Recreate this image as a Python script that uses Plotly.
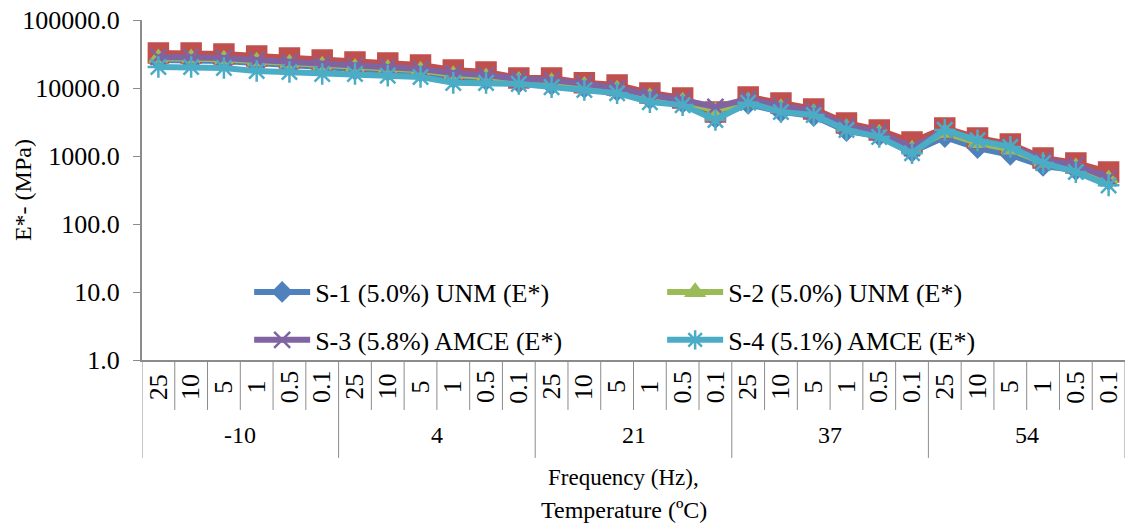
import plotly.graph_objects as go

temperatures = ["-10", "4", "21", "37", "54"]
frequencies = ["25", "10", "5", "1", "0.5", "0.1"]
categories = [f"{t}|{f}" for t in temperatures for f in frequencies]

s1_unm = [25800, 25800, 24900, 23300, 21800, 19700, 18400, 17800, 17200, 14000,
          13100, 11900, 11100, 10000, 9040, 6890, 6050, 3620, 5820, 4450,
          3870, 2330, 1970, 1150, 1900, 1310, 1040, 713, 622, 444]
s_red = [32700, 32700, 31700, 29600, 27600, 25800, 24100, 23300, 21800, 18400,
         17200, 14000, 14000, 11900, 11100, 8440, 7130, 4440, 7380, 6010,
         4910, 3060, 2410, 1610, 2580, 1840, 1500, 935, 788, 582]
s2_unm = [27500, 27500, 26500, 24800, 23000, 21500, 20000, 19300, 18200, 15600,
          14500, 12900, 12300, 10900, 9600, 7400, 6400, 4600, 6400, 5100,
          4300, 2600, 2150, 1250, 2200, 1550, 1250, 800, 690, 460]
s3_amce = [28600, 28600, 27600, 25800, 24100, 22500, 21100, 20400, 19000, 16600,
           15500, 13600, 13100, 11500, 10000, 7890, 6670, 5260, 6890, 5430,
           4590, 2760, 2250, 1310, 2420, 1700, 1400, 873, 738, 474]
s4_amce = [20400, 20400, 19700, 17800, 17200, 16100, 16100, 15200, 14500, 11900,
           11900, 11500, 10300, 9350, 8400, 6200, 5600, 3380, 6050, 4450,
           4000, 2420, 1900, 1100, 2420, 1700, 1360, 790, 580, 370]

y_tickvals = [1, 10, 100, 1000, 10000, 100000]
y_ticktext = ["1.0", "10.0", "100.0", "1000.0", "10000.0", "100000.0"]

FONT = "Liberation Serif"
GRAY = "#8c8c8c"
xs = list(range(len(categories)))

fig = go.Figure()
series = [
    ("S-1 (5.0%) UNM (E*)", s1_unm, "#4F81BD", "diamond", 14, True, "legend"),
    ("S-1 (5.0%) UNM (G*)", s_red, "#C0504D", "square", 19, False, "legend"),
    ("S-2 (5.0%) UNM (E*)", s2_unm, "#9BBB59", "triangle-up", 15, True, "legend"),
    ("S-3 (5.8%) AMCE (E*)", s3_amce, "#8064A2", "x-thin-open", 16, True, "legend2"),
    ("S-4 (5.1%) AMCE (E*)", s4_amce, "#4BACC6", "asterisk-open", 18, True, "legend2"),
]
for name, vals, col, sym, size, show, lg in series:
    fig.add_trace(go.Scatter(
        x=xs, y=vals, name=name, mode="lines+markers", showlegend=show, legend=lg,
        line=dict(color=col, width=6),
        marker=dict(symbol=sym, size=size, color=col, line=dict(color=col, width=2.5)),
    ))

shapes = []
ann = []
for i in range(len(categories) + 1):
    is_group = (i % 6 == 0)
    shapes.append(dict(type="line", xref="x", yref="paper", x0=i - 0.5, x1=i - 0.5,
                       y0=0, y1=-0.288 if is_group else -0.147,
                       line=dict(color=GRAY, width=1)))
for i, c in enumerate(categories):
    f = c.split("|")[1]
    ann.append(dict(xref="x", yref="paper", x=i, y=-0.079, text=f, textangle=-90,
                    showarrow=False, xanchor="center", yanchor="middle",
                    font=dict(family=FONT, size=26, color="black")))
for g, t in enumerate(temperatures):
    ann.append(dict(xref="x", yref="paper", x=g * 6 + 2.5, y=-0.22, text=t,
                    showarrow=False, xanchor="center", yanchor="middle",
                    font=dict(family=FONT, size=24, color="black")))
ann.append(dict(xref="paper", yref="paper", x=0.49, y=-0.345, text="Frequency (Hz),",
                showarrow=False, xanchor="center", yanchor="middle",
                font=dict(family=FONT, size=23, color="black")))
ann.append(dict(xref="paper", yref="paper", x=0.49, y=-0.44, text="Temperature (ºC)",
                showarrow=False, xanchor="center", yanchor="middle",
                font=dict(family=FONT, size=24, color="black")))
ann.append(dict(xref="paper", yref="paper", x=-0.121, y=0.5, text="E*- (MPa)",
                textangle=-90, showarrow=False, xanchor="center", yanchor="middle",
                font=dict(family=FONT, size=24, color="black")))

legend_common = dict(orientation="h", x=0.109, xanchor="left", yanchor="middle",
                     itemwidth=56, entrywidth=342, entrywidthmode="pixels",
                     bgcolor="rgba(0,0,0,0)",
                     font=dict(family=FONT, size=26, color="black"))

fig.update_layout(
    width=1125, height=529,
    margin=dict(l=142, r=0, t=20, b=169),
    paper_bgcolor="white", plot_bgcolor="white",
    font=dict(family=FONT, size=24, color="black"),
    shapes=shapes, annotations=ann,
    legend=dict(y=0.2, **legend_common),
    legend2=dict(y=0.059, **legend_common),
    xaxis=dict(range=[-0.5, len(categories) - 0.5], showticklabels=False, ticks="",
               showgrid=False, zeroline=False, showline=True, linecolor=GRAY, linewidth=1.5,
               automargin=False),
    yaxis=dict(type="log", range=[0, 5], tickvals=y_tickvals, ticktext=y_ticktext,
               ticks="outside", ticklen=7, tickcolor=GRAY, showgrid=False, zeroline=False,
               showline=True, linecolor=GRAY, linewidth=2, automargin=False,
               ticklabelstandoff=8,
               tickfont=dict(family=FONT, size=26)),
)

fig.write_html("out.html", config={"displayModeBar": False},
               post_script="document.body.style.margin='0';")
